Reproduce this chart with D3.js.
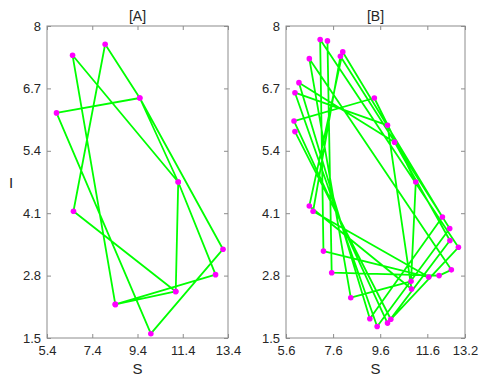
<!DOCTYPE html>
<html>
<head>
<meta charset="utf-8">
<script src="https://cdn.jsdelivr.net/npm/d3@7"></script>
<style>
  body { margin: 0; background: #fff; }
  svg { display: block; font-family: "Liberation Sans", Arial, sans-serif; }
</style>
</head>
<body>
<svg id="chart" width="488" height="383"></svg>
<script>
// panel A trajectory (S, I), in drawing order
var aS = [11.09, 6.57, 7.97, 9.50, 5.82, 9.99, 13.18, 9.50, 11.20, 6.53, 8.42, 12.85, 11.20, 11.09, 8.42];
var aI = [2.47, 4.14, 7.62, 6.50, 6.19, 1.59, 3.35, 6.50, 4.75, 7.39, 2.20, 2.82, 4.75, 2.47, 2.20];

// panel B trajectory (S, I), in drawing order
var bS = [5.98, 10.05, 12.92, 7.05, 7.19, 11.66, 6.75, 7.91, 12.55, 9.47, 5.98, 9.91, 10.93, 6.59, 8.01, 12.24,
          9.16, 6.15, 10.21, 12.56, 9.91, 5.94, 9.35, 11.11, 10.91, 8.35, 6.59, 12.62, 12.10, 7.54, 7.36];
var bI = [5.80, 1.89, 3.39, 7.72, 3.31, 2.77, 4.14, 7.37, 3.78, 1.74, 6.61, 5.93, 2.52, 4.25, 7.46, 4.02,
          1.90, 6.82, 5.58, 3.53, 1.81, 6.02, 6.50, 4.75, 2.68, 2.34, 7.32, 2.92, 2.80, 2.86, 7.69];

var yTicks = [1.5, 2.8, 4.1, 5.4, 6.7, 8];
var aXTicks = [5.4, 7.4, 9.4, 11.4, 13.4];
var bXTicks = [5.6, 7.6, 9.6, 11.6, 13.2];

var svg = d3.select("#chart");
var plotTop = 26, plotBottom = 338;

function panel(opts) {
    var x = d3.scaleLinear().domain(opts.xDomain).range([opts.left, opts.right]);
    var y = d3.scaleLinear().domain([1.5, 8]).range([plotBottom, plotTop]);
    var g = svg.append("g");

    // box
    g.append("rect")
        .attr("x", opts.left).attr("y", plotTop)
        .attr("width", opts.right - opts.left).attr("height", plotBottom - plotTop)
        .attr("fill", "none").attr("stroke", "#8c8c8c").attr("stroke-width", 1);

    // axes, ticks pointing inward
    var xb = d3.axisBottom(x).tickValues(opts.xTicks).tickSizeInner(-4).tickSizeOuter(0).tickPadding(8).tickFormat(d3.format(".1f"));
    var xt = d3.axisTop(x).tickValues(opts.xTicks).tickSizeInner(-4).tickSizeOuter(0).tickFormat("");
    var yl = d3.axisLeft(y).tickValues(yTicks).tickSizeInner(-4).tickSizeOuter(0).tickPadding(6)
        .tickFormat(function (d) { return d === 8 ? "8" : d3.format(".1f")(d); });
    var yr = d3.axisRight(y).tickValues(yTicks).tickSizeInner(-4).tickSizeOuter(0).tickFormat("");

    [[xb, "translate(0," + plotBottom + ")"], [xt, "translate(0," + plotTop + ")"],
     [yl, "translate(" + opts.left + ",0)"], [yr, "translate(" + opts.right + ",0)"]].forEach(function (a) {
        var ax = g.append("g").attr("transform", a[1]).call(a[0]);
        ax.select(".domain").remove();
        ax.selectAll("line").attr("stroke", "#8c8c8c");
        ax.selectAll("text").attr("fill", "#262626").style("font-size", "13px")
            .style("font-family", "Liberation Sans, Arial, sans-serif");
    });

    var pts = opts.s.map(function (d, i) { return [d, opts.i[i]]; });
    var line = d3.line().x(function (d) { return x(d[0]); }).y(function (d) { return y(d[1]); });

    g.append("path")
        .datum(pts)
        .attr("d", line)
        .attr("fill", "none")
        .attr("stroke", "#00ff00")
        .attr("stroke-width", 1.8)
        .attr("stroke-linejoin", "round");

    g.selectAll("circle.m")
        .data(pts)
        .enter().append("circle")
        .attr("class", "m")
        .attr("cx", function (d) { return x(d[0]); })
        .attr("cy", function (d) { return y(d[1]); })
        .attr("r", 2.8)
        .attr("fill", "#ff00ff");

    g.append("text")
        .attr("x", (opts.left + opts.right) / 2).attr("y", 21)
        .attr("text-anchor", "middle").attr("fill", "#262626")
        .style("font-size", "14px").text(opts.title);

    g.append("text")
        .attr("x", (opts.left + opts.right) / 2).attr("y", 374)
        .attr("text-anchor", "middle").attr("fill", "#262626")
        .style("font-size", "15px").text("S");
}

panel({ left: 47, right: 228, xDomain: [5.4, 13.4], xTicks: aXTicks, s: aS, i: aI, title: "[A]" });
panel({ left: 286, right: 465, xDomain: [5.6, 13.2], xTicks: bXTicks, s: bS, i: bI, title: "[B]" });

svg.append("text")
    .attr("x", 11).attr("y", 188)
    .attr("text-anchor", "middle").attr("fill", "#262626")
    .style("font-size", "15px").text("I");
</script>
</body>
</html>
